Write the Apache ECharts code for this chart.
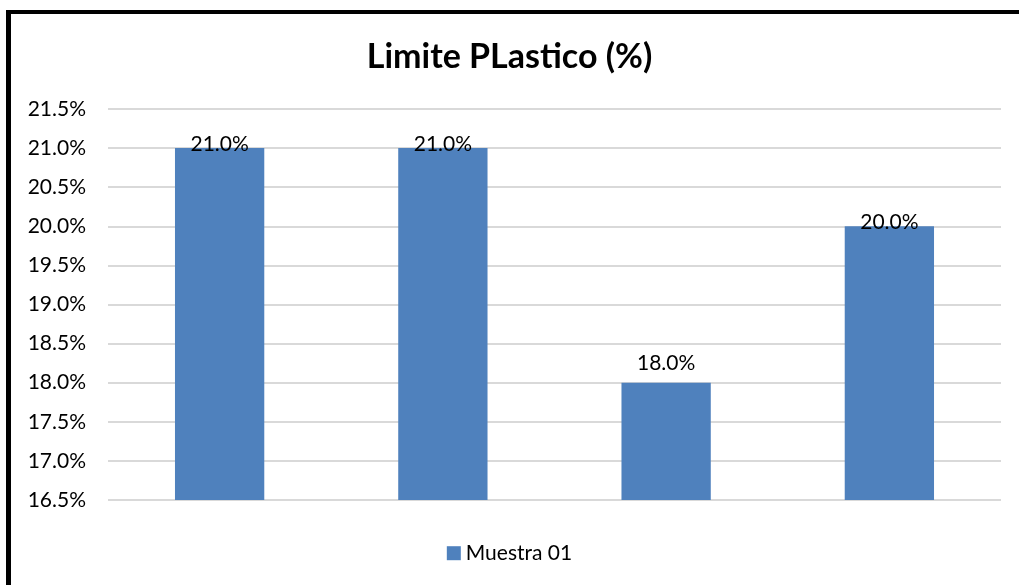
<html>

<head>
    <script src="https://cdn.jsdelivr.net/npm/echarts@6/dist/echarts.min.js"></script>
    <style>
        body {
            margin: 0;
            background: #fff;
        }

        #chart {
            position: absolute;
            left: 0;
            top: 0;
            width: 1019px;
            height: 585px;
        }

        #frame {
            position: absolute;
            left: 6px;
            top: 10px;
            width: 1013px;
            height: 575px;
            border-left: 5px solid #000;
            border-top: 4px solid #000;
            box-sizing: border-box;
            pointer-events: none;
        }
    </style>
</head>

<body>
    <div id="chart"></div>
    <div id="frame"></div>
    <script>
        var categories = ['1', '2', '3', '4'];
        var values = [21.0, 21.0, 18.0, 20.0];
        var seriesName = 'Muestra 01';
        // label offsets as seen in the picture (some labels sit on the bar top)
        var labelShift = [16, 16, 0, 16];

        var font = 'Lato, "Open Sans", sans-serif';

        var myChart = echarts.init(document.getElementById('chart'));
        var option = {
            animation: false,
            color: ['#4F81BD'],
            title: {
                text: 'Limite PLastico (%)',
                left: 'center',
                top: 26,
                textStyle: {
                    color: '#000',
                    fontSize: 34,
                    fontWeight: 'bold',
                    fontFamily: font
                }
            },
            legend: {
                bottom: 11,
                left: 'center',
                itemWidth: 14,
                itemHeight: 14,
                itemGap: 7,
                icon: 'rect',
                textStyle: {
                    color: '#000',
                    fontSize: 21,
                    fontFamily: font
                },
                data: [seriesName]
            },
            grid: {
                left: 108,
                right: 18,
                top: 109,
                bottom: 85,
                containLabel: false
            },
            xAxis: {
                type: 'category',
                data: categories,
                axisLine: { show: false },
                axisTick: { show: false },
                axisLabel: { show: false }
            },
            yAxis: {
                type: 'value',
                min: 16.5,
                max: 21.5,
                interval: 0.5,
                axisLine: { show: false },
                axisTick: { show: false },
                axisLabel: {
                    color: '#000',
                    fontSize: 21,
                    fontFamily: font,
                    margin: 22,
                    formatter: function (v) { return v.toFixed(1) + '%'; }
                },
                splitLine: {
                    lineStyle: { color: '#D9D9D9', width: 2 }
                }
            },
            series: [
                {
                    name: seriesName,
                    type: 'bar',
                    barWidth: '40%',
                    data: values.map(function (v, i) {
                        return {
                            value: v,
                            label: { offset: [0, labelShift[i]] }
                        };
                    }),
                    label: {
                        show: true,
                        position: 'top',
                        distance: 4,
                        color: '#000',
                        fontSize: 21,
                        fontFamily: font,
                        formatter: function (p) { return p.value.toFixed(1) + '%'; }
                    }
                }
            ]
        };

        myChart.setOption(option);
    </script>

</body>

</html>
